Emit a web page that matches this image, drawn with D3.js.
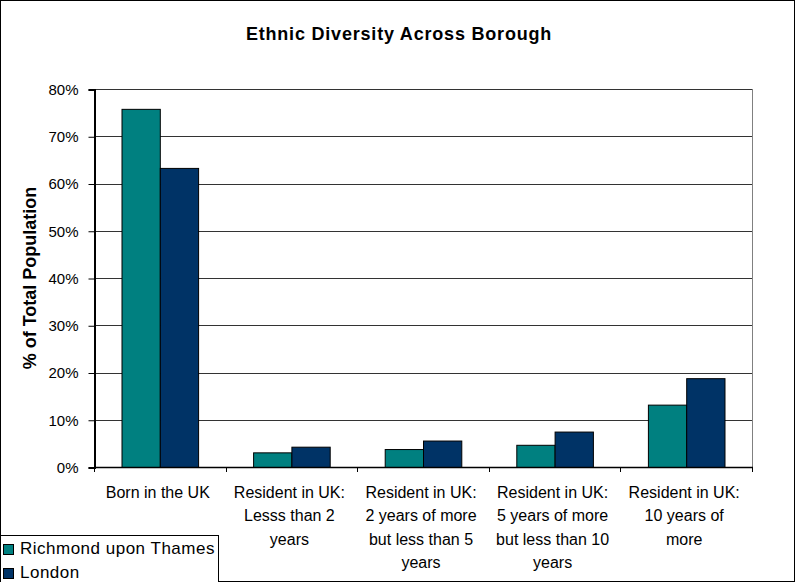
<!DOCTYPE html>
<html>
<head>
<meta charset="utf-8">
<script src="https://cdn.jsdelivr.net/npm/d3@7"></script>
<style>
  html, body { margin: 0; padding: 0; background: #fff; }
  svg { display: block; font-family: "Liberation Sans", Arial, sans-serif; }
</style>
</head>
<body>
<svg id="chart" width="795" height="582"></svg>
<script>
// Categories (line breaks mark where each label wraps)
const categories = [
  "Born in the UK",
  "Resident in UK:\nLesss than 2\nyears",
  "Resident in UK:\n2 years of more\nbut less than 5\nyears",
  "Resident in UK:\n5 years of more\nbut less than 10\nyears",
  "Resident in UK:\n10 years of\nmore"
];
const seriesNames = ["Richmond upon Thames", "London"];
const richmond = [75.8, 3.1, 3.8, 4.7, 13.2];
const london = [63.3, 4.3, 5.6, 7.5, 18.8];
const yTicks = [0, 10, 20, 30, 40, 50, 60, 70, 80];
const colors = ["#008080", "#003366"];

const W = 795, H = 582;
const plot = { left: 94, right: 752, top: 89, bottom: 467 };

const svg = d3.select("#chart");

// outer chart border
svg.append("rect")
  .attr("x", 0.5).attr("y", 0.5)
  .attr("width", W - 1).attr("height", H - 1)
  .attr("fill", "#fff").attr("stroke", "#000").attr("stroke-width", 1);

// title
svg.append("text")
  .attr("x", 399).attr("y", 40)
  .attr("text-anchor", "middle")
  .attr("font-size", "18px").attr("font-weight", "bold")
  .attr("letter-spacing", "0.8px")
  .text("Ethnic Diversity Across Borough");

const x0 = d3.scaleBand()
  .domain(categories)
  .range([plot.left, plot.right])
  .paddingInner(0.418).paddingOuter(0.209);

const x1 = d3.scaleBand()
  .domain(seriesNames)
  .range([0, x0.bandwidth()])
  .padding(0);

const y = d3.scaleLinear()
  .domain([0, 80])
  .range([plot.bottom, plot.top]);

// gridlines
svg.append("g")
  .selectAll("line")
  .data(yTicks.filter(d => d > 0))
  .join("line")
  .attr("x1", plot.left).attr("x2", plot.right)
  .attr("y1", d => Math.round(y(d)) + 0.5).attr("y2", d => Math.round(y(d)) + 0.5)
  .attr("stroke", "#333").attr("stroke-width", 1);

// right border of plot area
svg.append("line")
  .attr("x1", plot.right + 0.5).attr("x2", plot.right + 0.5)
  .attr("y1", plot.top).attr("y2", plot.bottom)
  .attr("stroke", "#808080").attr("stroke-width", 1);

// bars
const rows = categories.map((c, i) => ({ cat: c, values: [richmond[i], london[i]] }));
const groups = svg.append("g")
  .selectAll("g")
  .data(rows)
  .join("g")
  .attr("transform", d => `translate(${x0(d.cat)},0)`);

groups.selectAll("rect")
  .data(d => d.values.map((v, j) => ({ name: seriesNames[j], v, j })))
  .join("rect")
  .attr("x", d => x1(d.name) + 0.5)
  .attr("y", d => y(d.v) + 0.5)
  .attr("width", x1.bandwidth())
  .attr("height", d => y(0) - y(d.v))
  .attr("fill", d => colors[d.j])
  .attr("stroke", "#000").attr("stroke-width", 1);

// y axis
const yAxis = d3.axisLeft(y)
  .tickValues(yTicks)
  .tickFormat(d => d + "%")
  .tickSize(6).tickPadding(10);

const yg = svg.append("g")
  .attr("transform", `translate(${plot.left + 0.5},0.5)`)
  .call(yAxis);
yg.select(".domain").attr("stroke", "#000").attr("stroke-width", 2);
yg.selectAll(".tick line").attr("stroke", "#000");
yg.selectAll(".tick text")
  .attr("font-size", "15px").attr("font-family", "Liberation Sans, Arial, sans-serif")
  .attr("fill", "#000");

// x axis line with tick marks between categories
const xg = svg.append("g");
xg.append("line")
  .attr("x1", plot.left).attr("x2", plot.right + 1)
  .attr("y1", plot.bottom + 0.5).attr("y2", plot.bottom + 0.5)
  .attr("stroke", "#000").attr("stroke-width", 1.5);
const boundaries = d3.range(categories.length + 1).map(i => plot.left + i * (plot.right - plot.left) / categories.length);
xg.selectAll("line.tk")
  .data(boundaries)
  .join("line")
  .attr("class", "tk")
  .attr("x1", d => Math.round(d) + 0.5).attr("x2", d => Math.round(d) + 0.5)
  .attr("y1", plot.bottom).attr("y2", plot.bottom + 5)
  .attr("stroke", "#000");

// category labels
const labels = svg.append("g")
  .selectAll("text")
  .data(categories)
  .join("text")
  .attr("text-anchor", "middle")
  .attr("font-size", "16px")
  .attr("fill", "#000")
  .attr("transform", d => `translate(${x0(d) + x0.bandwidth() / 2 - 2},498)`);
labels.selectAll("tspan")
  .data(d => d.split("\n"))
  .join("tspan")
  .attr("x", 0)
  .attr("y", (d, i) => i * 23.3)
  .text(d => d);

// y axis title
svg.append("text")
  .attr("transform", "translate(36,278) rotate(-90)")
  .attr("text-anchor", "middle")
  .attr("font-size", "18px").attr("font-weight", "bold")
  .text("% of Total Population");

// legend
const lg = svg.append("g");
lg.append("rect")
  .attr("x", 0.5).attr("y", 535.5)
  .attr("width", 218).attr("height", 60)
  .attr("fill", "#fff").attr("stroke", "#000");
const items = lg.selectAll("g")
  .data(seriesNames)
  .join("g")
  .attr("transform", (d, i) => `translate(0,${554 + i * 24})`);
items.append("rect")
  .attr("x", 3.5).attr("y", -9.5)
  .attr("width", 10).attr("height", 10)
  .attr("fill", (d, i) => colors[i]).attr("stroke", "#000");
items.append("text")
  .attr("x", 20).attr("y", 0)
  .attr("font-size", "17px")
  .attr("letter-spacing", "0.5px")
  .text(d => d);
</script>
</body>
</html>
